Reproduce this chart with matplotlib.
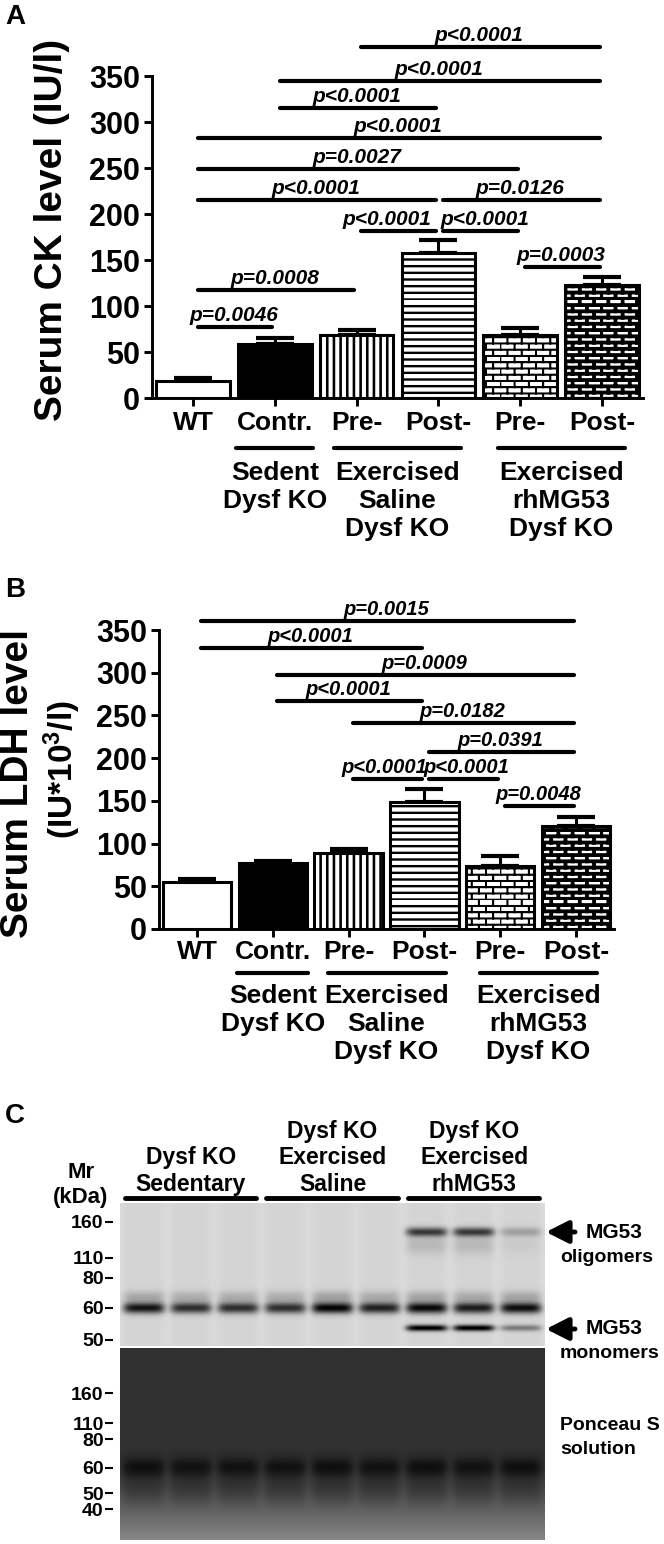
import numpy as np
import matplotlib
matplotlib.use('Agg')
import matplotlib.pyplot as plt
import matplotlib.hatch as mhatch
from matplotlib.path import Path
from matplotlib import transforms

W, H = 664, 1544

# ---- data ----
groups = ['WT', 'Contr.', 'Pre-', 'Post-', 'Pre-', 'Post-']
group_spans = [(1, 1, 'Sedent\nDysf KO'),
               (2, 3, 'Exercised\nSaline\nDysf KO'),
               (4, 5, 'Exercised\nrhMG53\nDysf KO')]

ck_mean = [18, 59, 68, 158, 68, 123]
ck_sem = [4, 6, 6, 14, 8, 8]
ck_tests = [(2, 5, 382, 'p<0.0001'), (1, 5, 345, 'p<0.0001'), (1, 3, 315, 'p<0.0001'),
            (0, 5, 283, 'p<0.0001'), (0, 4, 248.5, 'p=0.0027'), (0, 3, 215, 'p<0.0001'),
            (3, 5, 215, 'p=0.0126'), (2, 3, 181.5, 'p<0.0001'), (3, 4, 181.5, 'p<0.0001'),
            (4, 5, 142, 'p=0.0003'), (0, 2, 117, 'p=0.0008'), (0, 1, 77.5, 'p=0.0046')]

ldh_mean = [55, 77, 89, 149, 74, 120]
ldh_sem = [3.5, 2.5, 5, 15, 11, 11]
ldh_tests = [(0, 5, 360, 'p=0.0015'), (0, 3, 329, 'p<0.0001'), (1, 5, 297, 'p=0.0009'),
             (1, 3, 267, 'p<0.0001'), (2, 5, 241, 'p=0.0182'), (3, 5, 207, 'p=0.0391'),
             (2, 3, 176, 'p<0.0001'), (3, 4, 176, 'p<0.0001'), (4, 5, 144, 'p=0.0048')]

lanes = [1, 2, 3, 4, 5, 6, 7, 8, 9]
lane_groups = [(1, 3, 'Dysf KO\nSedentary'),
               (4, 6, 'Dysf KO\nExercised\nSaline'),
               (7, 9, 'Dysf KO\nExercised\nrhMG53')]
band60 = [0.75, 0.65, 0.65, 0.65, 0.82, 0.7, 0.8, 0.72, 0.78]
oligomer = [0, 0, 0, 0, 0, 0, 0.6, 0.6, 0.2]
monomer = [0, 0, 0, 0, 0, 0, 0.85, 0.85, 0.35]
ponceau = [0.13, 0.12, 0.12, 0.12, 0.13, 0.12, 0.13, 0.12, 0.13]
upper_markers = ['160', '110', '80', '60', '50']
upper_marker_pos = [19, 55, 75, 105, 137]
lower_markers = ['160', '110', '80', '60', '50', '40']
lower_marker_pos = [45, 75, 91, 120, 145, 161]

plt.rcParams['font.family'] = ['Liberation Sans', 'DejaVu Sans']
plt.rcParams['font.weight'] = 'bold'
plt.rcParams['mathtext.fontset'] = 'custom'
plt.rcParams['mathtext.rm'] = 'Liberation Sans:bold'
plt.rcParams['mathtext.it'] = 'Liberation Sans:bold:italic'
plt.rcParams['mathtext.bf'] = 'Liberation Sans:bold'
plt.rcParams['hatch.linewidth'] = 1.0


# custom fills: o vertical stripes, O horizontal stripes, . bricks, * dark bricks
class PanelHatch(mhatch.HatchPatternBase):
    def __init__(self, hatch, density):
        r = []
        n = 15
        if 'o' in hatch:
            r += [(i / n, 0, 0.012, 1) for i in range(n)]
        if 'O' in hatch:
            r += [(0, i / n, 1, 0.01) for i in range(n)]
        for ch, t in (('.', 0.006), ('*', 0.024)):
            if ch in hatch:
                rows, cols = 16, 7
                for k in range(rows):
                    y = k / rows
                    r.append((0, y, 1, t))
                    off = 0.5 / cols if k % 2 else 0
                    r += [(off + j / cols, y, t, 1 / rows) for j in range(cols)]
        self.rects = r
        self.num_vertices = 5 * len(r)

    def set_vertices_and_codes(self, vertices, codes):
        for i, (x, y, w, h) in enumerate(self.rects):
            vertices[5 * i:5 * i + 5] = [(x, y), (x + w, y), (x + w, y + h), (x, y + h), (x, y)]
            codes[5 * i:5 * i + 5] = [Path.MOVETO, Path.LINETO, Path.LINETO, Path.LINETO, Path.CLOSEPOLY]


mhatch._hatch_types = [PanelHatch]
bar_hatches = ['', '', 'o', 'O', '.', '*']
bar_faces = ['white', 'black', 'white', 'white', 'white', 'white']

fig = plt.figure(figsize=(W / 100, H / 100), dpi=100)


def px_axes(x0, y0, x1, y1):
    return fig.add_axes([x0 / W, 1 - y1 / H, (x1 - x0) / W, (y1 - y0) / H])


def bar_panel(ax, means, sems, tests, pfs, nudge, tick_pad, line_off, text_off):
    x = np.arange(len(groups))
    for i in x:
        ax.bar(i, means[i], width=0.9, color=bar_faces[i], edgecolor='black',
               linewidth=2.2, hatch=bar_hatches[i], zorder=2)
    ax.errorbar(x, means, yerr=[np.zeros(len(x)), sems], fmt='none', ecolor='black',
                elinewidth=2.2, capsize=13.5, capthick=3, zorder=1)
    ax.set_xlim(-0.5, 5.5)
    ax.set_ylim(0, 350)
    ax.set_yticks(np.arange(0, 351, 50))
    ax.set_xticks(x, groups)
    for s in ['top', 'right']:
        ax.spines[s].set_visible(False)
    for s in ['left', 'bottom']:
        ax.spines[s].set_linewidth(2.1)
    ax.tick_params(axis='y', length=6, width=2.1, labelsize=22, pad=2.5)
    ax.tick_params(axis='x', length=6, width=2.1, labelsize=19, pad=tick_pad)
    for i, j, y, label in tests:
        ax.plot([i + 0.06, j - 0.03], [y, y], color='black', lw=3,
                solid_capstyle='round', clip_on=False)
        ax.annotate(label, xy=((i + j) / 2, y), xytext=(nudge.get((i, j), 0), 6),
                    textcoords='offset pixels', ha='center', va='baseline',
                    fontsize=pfs, fontstyle='italic', fontweight='bold',
                    annotation_clip=False)
    for a, b, label in group_spans:
        lo, hi = (a - 0.47, b + 0.47) if a == b else (a - 0.27, b + 0.28)
        tr = transforms.offset_copy(ax.get_xaxis_transform(), fig=fig, y=-line_off, units='dots')
        ax.plot([lo, hi], [0, 0], transform=tr, clip_on=False,
                color='black', lw=3, solid_capstyle='round')
        tr2 = transforms.offset_copy(ax.get_xaxis_transform(), fig=fig, y=-text_off, units='dots')
        ax.text((a + b) / 2, 0, label, transform=tr2, ha='center', va='top',
                fontsize=19, fontweight='bold', linespacing=1.2)


# ---- panel A ----
axA = px_axes(152, 76, 643, 398)
bar_panel(axA, ck_mean, ck_sem, ck_tests, 15, {(2, 3): -11, (3, 4): 6}, 3, 50, 63)

# ---- panel B ----
axB = px_axes(159, 630, 614, 929)
bar_panel(axB, ldh_mean, ldh_sem, ldh_tests, 14.5, {(2, 3): -2, (3, 4): 4}, 2, 44, 55)

# ---- panel C: blot ----
axU = px_axes(120, 1203, 545, 1346)
axL = px_axes(120, 1348, 545, 1540)


def lane_profile(xs, c):
    return np.exp(-((xs - c) / 0.44) ** 6)


nx = 425
xs = np.linspace(0.5, 9.5, nx)
ys = np.arange(143) + 0.5
up = np.full((ys.size, nx), 0.86)
for k, lane in enumerate(lanes):
    prof = lane_profile(xs, lane)
    dark = 0.03 + band60[k] * np.exp(-((ys - 105) / 5.5) ** 2)
    dark += 0.22 * band60[k] * np.exp(-((ys - 94) / 6.0) ** 2)
    dark += oligomer[k] * np.exp(-((ys - 29) / 4.5) ** 2)
    dark += 0.18 * oligomer[k] * np.exp(-((ys - 42) / 10.0) ** 2)
    dark += monomer[k] * np.exp(-((ys - 125) / 3.2) ** 2)
    up -= np.outer(dark, prof)
axU.imshow(np.clip(up, 0, 1), cmap='gray', vmin=0, vmax=1, aspect='auto',
           extent=(0.5, 9.5, 143, 0), interpolation='bilinear')

yl = np.arange(192) + 0.5
base = 0.19 + 0.34 * np.clip((yl - 118) / 74, 0, 1) ** 1.1
lo = np.tile(base[:, None], (1, nx))
for k, lane in enumerate(lanes):
    prof = lane_profile(xs, lane)
    dark = ponceau[k] * np.exp(-((yl - 120) / 10.0) ** 2)
    dark += 0.07 * np.exp(-((yl - 142) / 15.0) ** 2)
    lo -= np.outer(dark, prof)
axL.imshow(np.clip(lo, 0, 1), cmap='gray', vmin=0, vmax=1, aspect='auto',
           extent=(0.5, 9.5, 192, 0), interpolation='bilinear')

for ax, pos, labs, h in [(axU, upper_marker_pos, upper_markers, 143),
                         (axL, lower_marker_pos, lower_markers, 192)]:
    ax.set_xlim(0.5, 9.5)
    ax.set_ylim(h, 0)
    ax.set_xticks([])
    ax.set_yticks(pos, labs)
    for s in ax.spines.values():
        s.set_visible(False)
    ax.spines['left'].set_position(('outward', 4.7))
    ax.tick_params(axis='y', length=6, width=1.5, labelsize=14, pad=1)

for a, b, label in lane_groups:
    tr = transforms.offset_copy(axU.get_xaxis_transform(), fig=fig, y=5, units='dots')
    axU.plot([a - 0.4, b + 0.38], [1, 1], transform=tr, clip_on=False,
             color='black', lw=3.5, solid_capstyle='round')
    tr2 = transforms.offset_copy(axU.get_xaxis_transform(), fig=fig, y=12, units='dots')
    axU.text((a + b) / 2, 1, label, transform=tr2, ha='center', va='baseline',
             fontsize=16.5, fontweight='bold', linespacing=1.2)

# ---- overlay: panel letters, labels, arrows ----
ov = fig.add_axes([0, 0, 1, 1])
ov.set_xlim(0, W)
ov.set_ylim(H, 0)
ov.axis('off')
for letter, y in [('A', 17), ('B', 590), ('C', 1116)]:
    ov.text(5, y, letter, fontsize=20, fontweight='bold', va='center', ha='left')
ov.text(52, 230, 'Serum CK level (IU/l)', rotation=90, ha='center', va='center',
        fontsize=28, fontweight='bold')
ov.text(18, 783, 'Serum LDH level', rotation=90, ha='center', va='center',
        fontsize=28, fontweight='bold')
ov.text(62, 770, r'(IU*10$^{3}$/l)', rotation=90, ha='center', va='center',
        fontsize=24, fontweight='bold')
ov.text(81, 1173, 'Mr', ha='center', va='center', fontsize=16)
ov.text(81, 1197, '(kDa)', ha='center', va='center', fontsize=16)

for yb, name in [(1232, 'oligomers'), (1329, 'monomers')]:
    ov.annotate('', xy=(546, yb), xytext=(575, yb),
                arrowprops=dict(arrowstyle='-|>,head_length=0.75,head_width=0.38', lw=3.5,
                                color='black', mutation_scale=18, shrinkA=0, shrinkB=0))
    ov.text(586, yb, 'MG53', ha='left', va='center', fontsize=15)
    ov.text(560, yb + 25, name, ha='left', va='center', fontsize=14)
ov.text(560, 1425, 'Ponceau S', ha='left', va='center', fontsize=14)
ov.text(560, 1450, 'solution', ha='left', va='center', fontsize=14)

fig.savefig('out.png', dpi=100)
